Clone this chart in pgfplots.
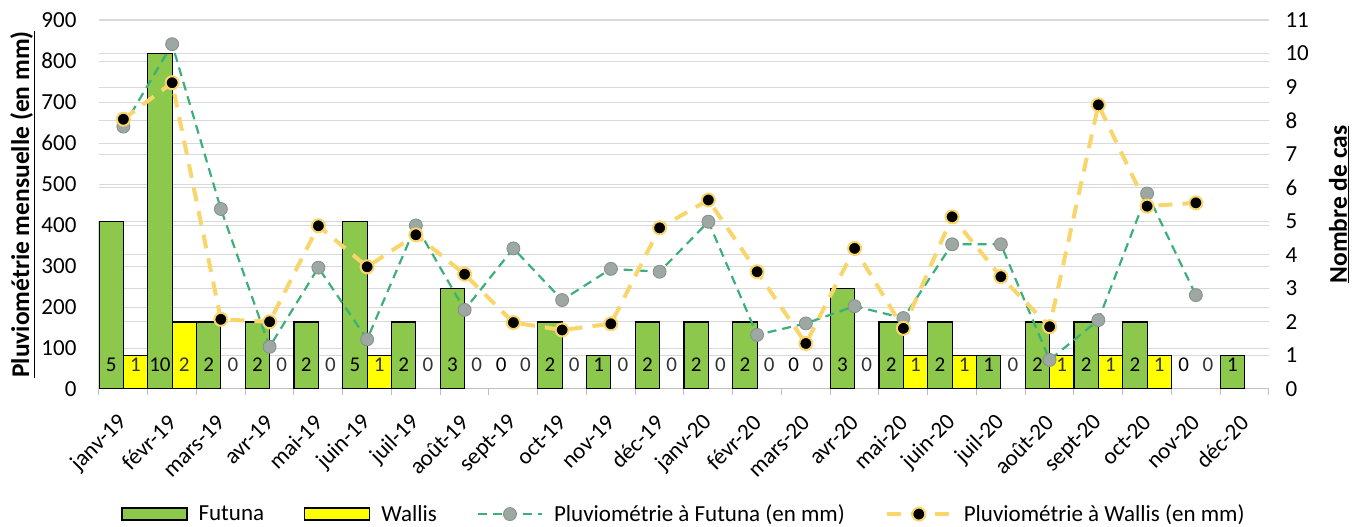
\documentclass[border=0pt]{standalone}
\usepackage{pgfplots}
\pgfplotsset{compat=1.18}
\usepackage{pgfplotstable}
\usepackage{fontspec}
\setmainfont{Carlito}

\definecolor{futgreen}{HTML}{8CC84B}
\definecolor{walyel}{HTML}{FFFF00}
\definecolor{linegreen}{HTML}{3DAF78}
\definecolor{markgrey}{HTML}{9EA8A2}
\definecolor{lineyel}{HTML}{F8D66C}
\definecolor{gridc}{HTML}{D9D9D9}
\definecolor{axisc}{HTML}{BFBFBF}

\pgfplotstableread{
x f w rf rw
0 5 1 640 658
1 10 2 841 747
2 2 0 439 170
3 2 0 103 164
4 2 0 296 398
5 5 1 121 298
6 2 0 399 376
7 3 0 193 280
8 0 0 343 162
9 2 0 217 144
10 1 0 293 159
11 2 0 286 393
12 2 0 408 461
13 2 0 132 286
14 0 0 160 111
15 3 0 202 343
16 2 1 173 148
17 2 1 353 420
18 1 0 353 274
19 2 1 71 152
20 2 1 168 693
21 2 1 477 446
22 0 0 229 454
23 1 nan nan nan
}\data

\newcommand{\fs}{\fontsize{23}{27}\selectfont}
\newcommand{\fl}{\fontsize{25.5}{30}\selectfont}
\newcommand{\fn}{\fontsize{21}{25}\selectfont}

\pgfplotsset{base/.style={width=1170pt,height=369pt,scale only axis,
  xmin=-0.5,xmax=23.5,
  /pgf/number format/assume math mode=true,
  tick label style={font=\fs},
  label style={font=\fl\bfseries},
},
mylinelegend/.style={legend image code/.code={\draw[mark repeat=2, mark phase=2, ##1] plot coordinates {(0pt,0pt) (32pt,0pt) (64pt,0pt)};}}
}

\begin{document}
\begin{tikzpicture}
\useasboundingbox (-99pt,-138pt) rectangle (1263pt,389pt);
% left scale: grid, ticks, label
\begin{axis}[base, ymin=0, ymax=900, ytick={0,100,...,900},
  ymajorgrids, grid style={gridc, line width=1pt},
  axis line style={draw=none}, xtick=\empty, major tick length=0pt,
  ylabel={\underline{Pluviométrie mensuelle (en mm)}},
  ylabel style={at={(axis description cs:-0.0654,0.5)}, anchor=center},
  yticklabel style={xshift=-19pt}]
\addplot[draw=none, forget plot] table[x=x,y=rf]{\data};
\end{axis}
% right scale: bars
\begin{axis}[base, ymin=0, ymax=11, ytick={0,...,11},
  ymajorgrids, grid style={gridc, line width=1pt},
  axis x line*=bottom, axis y line*=right,
  y axis line style={draw=none},
  x axis line style={draw=axisc, line width=1pt, -},
  xtick={0,...,23},
  xticklabels={janv-19,févr-19,mars-19,avr-19,mai-19,juin-19,juil-19,août-19,sept-19,oct-19,nov-19,déc-19,janv-20,févr-20,mars-20,avr-20,mai-20,juin-20,juil-20,août-20,sept-20,oct-20,nov-20,déc-20},
  xticklabel style={yshift=-30pt, xshift=0pt, rotate=45, anchor=east, inner sep=0pt},
  minor xtick={-0.5,0.5,...,23.5},
  major tick length=0pt, minor tick length=6pt, tick align=outside,
  minor tick style={draw=axisc, line width=1pt},
  yticklabel style={xshift=13pt},
  ylabel={\underline{Nombre de cas}},
  ylabel style={at={(axis description cs:1.0598,0.5)}, anchor=center}]
\addplot[ybar, bar width=0.5, bar shift=-0.25, fill=futgreen, draw=black, line width=1.2pt,
  y filter/.expression={y==0 ? nan : y}] table[x=x,y=f]{\data};
\addplot[ybar, bar width=0.5, bar shift=0.25, fill=walyel, draw=black, line width=1.2pt,
  y filter/.expression={y==0 ? nan : y}, skip coords between index={23}{24}] table[x=x,y=w]{\data};
\addplot[draw=none, mark=none, nodes near coords, point meta=explicit symbolic,
  nodes near coords style={anchor=center, font=\fn, text=black}]
  table[x expr=\thisrow{x}-0.25, y expr=0.72, meta=f]{\data};
\addplot[draw=none, mark=none, nodes near coords, point meta=explicit symbolic,
  nodes near coords style={anchor=center, font=\fn, text=black!80},
  skip coords between index={23}{24}]
  table[x expr=\thisrow{x}+0.25, y expr=0.72, meta=w]{\data};
\end{axis}
% rainfall lines on left scale
\begin{axis}[base, ymin=0, ymax=900, hide axis,
  legend columns=4,
  legend style={draw=none, fill=none, font=\fs, at={(0.5,-0.339)}, anchor=center,
    inner sep=0pt,
    /tikz/every odd column/.append style={column sep=9pt},
    /tikz/every even column/.append style={column sep=38pt}}]
\addlegendimage{legend image code/.code={\draw[fill=futgreen, draw=black, line width=1.2pt] (0pt,-6pt) rectangle (65pt,6pt);}}
\addlegendentry{Futuna}
\addlegendimage{legend image code/.code={\draw[fill=walyel, draw=black, line width=1.2pt] (0pt,-6pt) rectangle (65pt,6pt);}}
\addlegendentry{Wallis}
\addplot[linegreen, line width=2.2pt, dash pattern=on 9pt off 6pt,
  mark=*, mark size=6.5pt, mark options={solid, fill=markgrey, draw=markgrey!85!black, line width=0.8pt},
  mylinelegend]
  table[x=x,y=rf]{\data};
\addlegendentry{Pluviométrie à Futuna (en mm)}
\addplot[lineyel, line width=4pt, dash pattern=on 14pt off 10pt,
  mark=*, mark size=6.5pt, mark options={solid, fill=black, draw=lineyel, line width=2pt},
  mylinelegend]
  table[x=x,y=rw]{\data};
\addlegendentry{Pluviométrie à Wallis (en mm)}
\end{axis}
\end{tikzpicture}
\end{document}
